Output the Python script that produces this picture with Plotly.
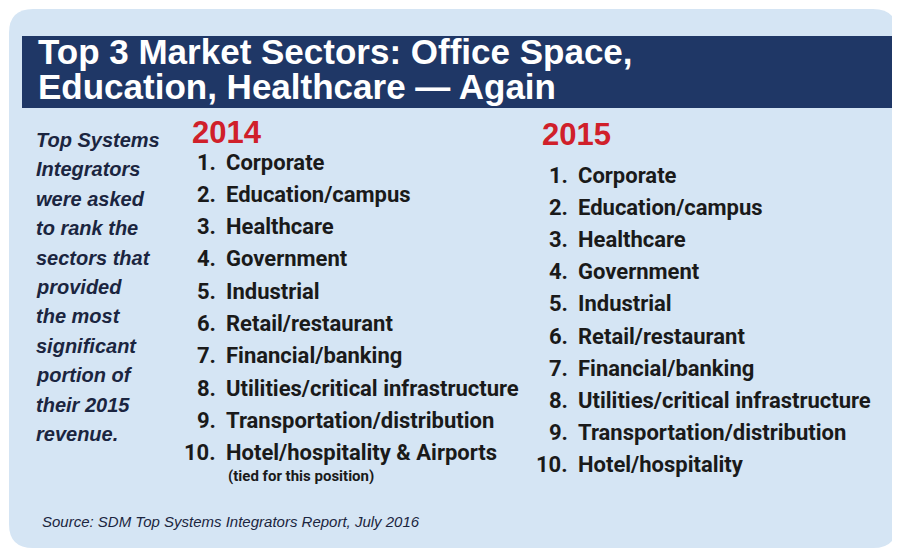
import plotly.graph_objects as go

W, H = 900, 550
OFF = 8  # page offset compensation
title_lines = ["Top 3 Market Sectors: Office Space,", "Education, Healthcare — Again"]
intro_lines = ["Top Systems", "Integrators", "were asked", "to rank the", "sectors that", "provided", "the most",
               "significant", "portion of", "their 2015", "revenue."]
years = ["2014", "2015"]
sectors_2014 = ["Corporate", "Education/campus", "Healthcare", "Government", "Industrial", "Retail/restaurant",
                "Financial/banking", "Utilities/critical infrastructure", "Transportation/distribution",
                "Hotel/hospitality & Airports"]
note_2014 = "(tied for this position)"
sectors_2015 = ["Corporate", "Education/campus", "Healthcare", "Government", "Industrial", "Retail/restaurant",
                "Financial/banking", "Utilities/critical infrastructure", "Transportation/distribution",
                "Hotel/hospitality"]
source = "Source: SDM Top Systems Integrators Report, July 2016"

NAVY = "#1f3766"
INK = "#1a1a1a"
RED = "#d0202a"
BG = "#d5e5f4"

def px(x): return (x - OFF) / W
def py(y): return 1 - (y - OFF) / H

ann = []
def add(text, x, y, size, color=INK, xanchor="left", bold=True, italic=False, family="Roboto"):
    t = text
    if bold: t = f"<b>{t}</b>"
    if italic: t = f"<i>{t}</i>"
    ann.append(dict(text=t, x=px(x), y=py(y), xref="paper", yref="paper", xanchor=xanchor, yanchor="middle",
                    showarrow=False, font=dict(size=size, color=color, family=family)))

for i, l in enumerate(title_lines):
    add(l, 36, 52 + i * 34, 35, "white", family="Liberation Sans")
for i, l in enumerate(intro_lines):
    add(l, 34, 140 + i * 29.4, 20, "#1b2540", italic=True, family="Liberation Sans")
add(years[0], 190, 132, 31, RED, family="Liberation Sans")
add(years[1], 540, 134, 31, RED, family="Liberation Sans")
for i, s in enumerate(sectors_2014):
    y = 162 + i * 32.3
    add(f"{i+1}.", 218, y, 22, xanchor="right")
    add(s, 224, y, 22)
add(note_2014, 226, 476, 15)
for i, s in enumerate(sectors_2015):
    y = 175 + i * 32.2
    add(f"{i+1}.", 570, y, 22, xanchor="right")
    add(s, 576, y, 22)
add(source, 40, 521, 15, "#1b2540", bold=False, italic=True, family="Liberation Sans")

def rrect(x0, y0, x1, y1, r):
    X = lambda v: px(v); Y = lambda v: py(v)
    return (f"M {X(x0+r)},{Y(y0)} L {X(x1-r)},{Y(y0)} Q {X(x1)},{Y(y0)} {X(x1)},{Y(y0+r)} "
            f"L {X(x1)},{Y(y1-r)} Q {X(x1)},{Y(y1)} {X(x1-r)},{Y(y1)} L {X(x0+r)},{Y(y1)} "
            f"Q {X(x0)},{Y(y1)} {X(x0)},{Y(y1-r)} L {X(x0)},{Y(y0+r)} Q {X(x0)},{Y(y0)} {X(x0+r)},{Y(y0)} Z")

shapes = [
    dict(type="path", path=rrect(9, 9, 897, 548, 24), xref="paper", yref="paper", fillcolor=BG, line=dict(width=0), layer="below"),
    dict(type="rect", x0=px(22), x1=px(908), y0=py(36), y1=py(108), xref="paper", yref="paper",
         fillcolor=NAVY, line=dict(width=0), layer="below"),
]

fig = go.Figure()
fig.update_layout(width=W, height=H, margin=dict(l=0, r=0, t=0, b=0), paper_bgcolor="white", plot_bgcolor="white",
                  xaxis=dict(visible=False, range=[0, 1]), yaxis=dict(visible=False, range=[0, 1]),
                  annotations=ann, shapes=shapes, showlegend=False)
fig.write_html("out.html")
